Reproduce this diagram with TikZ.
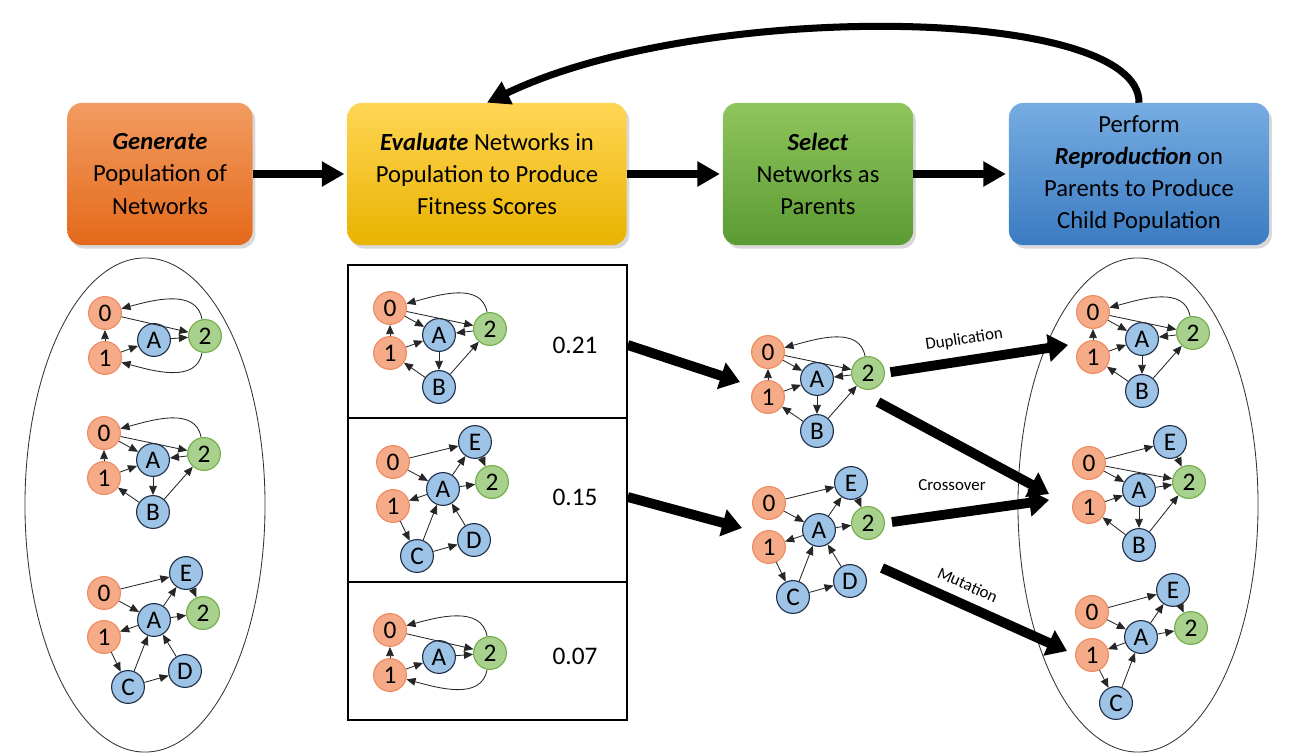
\documentclass[tikz,border=0pt]{standalone}
\usepackage{fontspec}
\setmainfont{Carlito}
\usetikzlibrary{arrows.meta,shapes.geometric,shadows}

\definecolor{orgfill}{HTML}{F5AB88}
\definecolor{orgline}{HTML}{EE8A5E}
\definecolor{bluefill}{HTML}{9DC3E6}
\definecolor{blueline}{HTML}{1F2F4A}
\definecolor{grnfill}{HTML}{A9D18E}
\definecolor{grnline}{HTML}{70AD47}
\definecolor{gentop}{HTML}{F29C62}
\definecolor{genbot}{HTML}{E4691A}
\definecolor{evaltop}{HTML}{FFD655}
\definecolor{evalbot}{HTML}{E9B300}
\definecolor{seltop}{HTML}{8FC55C}
\definecolor{selbot}{HTML}{5C9A33}
\definecolor{reptop}{HTML}{76ACE1}
\definecolor{repbot}{HTML}{3B7BC2}

\newcommand{\netloop}[2]{%
  \begin{scope}[shift={#2}]
    \node[orgnode] (#1-0) at (0,0) {0};
    \node[orgnode] (#1-1) at (0,45) {1};
    \node[bluenode] (#1-A) at (49,27) {A};
    \node[grnnode] (#1-2) at (100,23) {2};
    \draw[netedge] (#1-1) -- (#1-0);
    \draw[netedge] (#1-0) -- (#1-2);
    \draw[netedge] (#1-1) -- (#1-A);
    \draw[netedge] (#1-A) -- (#1-2);
    \draw[netedge] (#1-2) to[out=100,in=15] (#1-0);
    \draw[netedge] (#1-2) to[out=-100,in=-15] (#1-1);
  \end{scope}}

\newcommand{\netbranch}[2]{%
  \begin{scope}[shift={#2}]
    \node[orgnode] (#1-0) at (0,0) {0};
    \node[orgnode] (#1-1) at (0,45) {1};
    \node[bluenode] (#1-A) at (49,27) {A};
    \node[grnnode] (#1-2) at (100,21) {2};
    \node[bluenode] (#1-B) at (49,79) {B};
    \draw[netedge] (#1-2) to[out=100,in=15] (#1-0);
    \draw[netedge] (#1-0) -- (#1-2);
    \draw[netedge] (#1-0) -- (#1-A);
    \draw[netedge] (#1-1) -- (#1-0);
    \draw[netedge] (#1-1) -- (#1-A);
    \draw[netedge] (#1-2) -- (#1-A);
    \draw[netedge] (#1-A) -- (#1-B);
    \draw[netedge] (#1-B) -- (#1-1);
    \draw[netedge] (#1-B) -- (#1-2);
  \end{scope}}

\newcommand{\netwide}[2]{%
  \begin{scope}[shift={#2}]
    \node[orgnode] (#1-0) at (0,0) {0};
    \node[orgnode] (#1-1) at (0,44) {1};
    \node[bluenode] (#1-A) at (50,27) {A};
    \node[grnnode] (#1-2) at (99,20) {2};
    \node[bluenode] (#1-E) at (82,-20) {E};
    \node[bluenode] (#1-D) at (81,78) {D};
    \node[bluenode] (#1-C) at (24,94) {C};
    \draw[netedge] (#1-0) -- (#1-E);
    \draw[netedge] (#1-0) -- (#1-A);
    \draw[netedge] (#1-A) -- (#1-E);
    \draw[netedge] (#1-E) -- (#1-2);
    \draw[netedge] (#1-A) -- (#1-2);
    \draw[netedge] (#1-A) -- (#1-1);
    \draw[netedge] (#1-1) -- (#1-C);
    \draw[netedge] (#1-C) -- (#1-A);
    \draw[netedge] (#1-C) -- (#1-D);
    \draw[netedge] (#1-D) -- (#1-A);
  \end{scope}}

\newcommand{\netcross}[2]{%
  \begin{scope}[shift={#2}]
    \node[orgnode] (#1-0) at (0,0) {0};
    \node[orgnode] (#1-1) at (0,44) {1};
    \node[bluenode] (#1-A) at (50,27) {A};
    \node[grnnode] (#1-2) at (100,19) {2};
    \node[bluenode] (#1-E) at (81,-21) {E};
    \node[bluenode] (#1-B) at (50,82) {B};
    \draw[netedge] (#1-0) -- (#1-E);
    \draw[netedge] (#1-0) -- (#1-2);
    \draw[netedge] (#1-0) -- (#1-A);
    \draw[netedge] (#1-E) -- (#1-2);
    \draw[netedge] (#1-A) -- (#1-2);
    \draw[netedge] (#1-1) -- (#1-A);
    \draw[netedge] (#1-A) -- (#1-B);
    \draw[netedge] (#1-B) -- (#1-1);
    \draw[netedge] (#1-B) -- (#1-2);
  \end{scope}}

\newcommand{\netmutant}[2]{%
  \begin{scope}[shift={#2}]
    \node[orgnode] (#1-0) at (0,0) {0};
    \node[orgnode] (#1-1) at (0,43) {1};
    \node[bluenode] (#1-A) at (49,25) {A};
    \node[grnnode] (#1-2) at (99,16) {2};
    \node[bluenode] (#1-E) at (81,-22) {E};
    \node[bluenode] (#1-C) at (24,91) {C};
    \draw[netedge] (#1-0) -- (#1-E);
    \draw[netedge] (#1-0) -- (#1-A);
    \draw[netedge] (#1-A) -- (#1-E);
    \draw[netedge] (#1-E) -- (#1-2);
    \draw[netedge] (#1-A) -- (#1-2);
    \draw[netedge] (#1-A) -- (#1-1);
    \draw[netedge] (#1-1) -- (#1-C);
    \draw[netedge] (#1-C) -- (#1-A);
  \end{scope}}

\begin{document}
\begin{tikzpicture}[x=0.025cm, y=-0.025cm,
  netnode/.style={circle, minimum size=0.82cm, inner sep=0pt, line width=0.8pt,
    font=\fontsize{18}{18}\selectfont},
  orgnode/.style={netnode, draw=orgline, fill=orgfill},
  bluenode/.style={netnode, draw=blueline, fill=bluefill},
  grnnode/.style={netnode, draw=grnline, fill=grnfill},
  netedge/.style={line width=0.6pt, draw=black!85, -{Triangle[length=6.5pt,width=5.5pt]}},
  stagebox/.style={rounded corners=0.35cm, minimum height=3.55cm, align=center,
    font=\fontsize{17.5}{22.8}\selectfont,
    drop shadow={shadow xshift=2pt, shadow yshift=-2.5pt, opacity=0.3}},
  flowarrow/.style={line width=5pt, -{Triangle[length=16pt,width=17pt]}},
  bigarrow/.style={line width=7pt, -{Triangle[length=14pt,width=19pt]}},
  scorerow/.style={draw, line width=1pt, minimum width=6.975cm},
  popellipse/.style={ellipse, draw=black!80, line width=0.6pt, minimum width=6cm, minimum height=12.35cm},
  edgelabel/.style={font=\fontsize{12}{14}\selectfont}]

\useasboundingbox (0,0) rectangle (1290,755);

\node[stagebox, minimum width=4.625cm, top color=gentop, bottom color=genbot]
  (generate) at (160,174) {\textbf{\textit{Generate}}\\Population of\\Networks};
\node[stagebox, minimum width=6.975cm, top color=evaltop, bottom color=evalbot]
  (evaluate) at (487,174) {\textbf{\textit{Evaluate}} Networks in\\Population to Produce\\Fitness Scores};
\node[stagebox, minimum width=4.75cm, top color=seltop, bottom color=selbot]
  (select) at (818,174) {\textbf{\textit{Select}}\\Networks as\\Parents};
\node[stagebox, minimum width=6.5cm, top color=reptop, bottom color=repbot]
  (perform) at (1139,174) {Perform\\\textbf{\textit{Reproduction}} on\\Parents to Produce\\Child Population};

\draw[flowarrow, shorten >=2pt] (generate) -- (evaluate);
\draw[flowarrow, shorten >=2pt] (evaluate) -- (select);
\draw[flowarrow, shorten >=2pt] (select) -- (perform);
\draw[flowarrow] (perform.north) .. controls (1140,5) and (700,0) .. (evaluate.north);

\node[popellipse] (population) at (145,505) {};
\node[popellipse] (children) at (1138,505) {};

\node[scorerow, minimum height=3.825cm] (row1) at (487.5,341.5) {};
\node[scorerow, minimum height=4.1cm] (row2) at (487.5,500) {};
\node[scorerow, minimum height=3.45cm] (row3) at (487.5,651) {};
\node[font=\fontsize{18}{18}\selectfont] (s1) at (575,345) {0.21};
\node[font=\fontsize{18}{18}\selectfont] (s2) at (575,497) {0.15};
\node[font=\fontsize{18}{18}\selectfont] (s3) at (575,656) {0.07};

\netloop{ga}{(105,313)}
\netbranch{gb}{(104,433)}
\netwide{gc}{(104,593)}

\netbranch{ea}{(390,308)}
\netwide{eb}{(393,462)}
\netloop{ec}{(390,630)}

\netbranch{sa}{(768,352)}
\netwide{sb}{(769,503)}

\netbranch{ra}{(1093,312)}
\netcross{rb}{(1089,463)}
\netmutant{rc}{(1092,612)}

\coordinate (pick1) at (740,382);
\coordinate (pick2) at (742,528);
\coordinate (dupend) at (1068,345);
\coordinate (crossend) at (1049,494);
\coordinate (crossend2) at (1049,500);
\coordinate (mutend) at (1067,651);
\coordinate (crossstart) at (878,402);
\coordinate (mutstart) at (882,568);

\draw[bigarrow] (row1.east |- s1) -- (pick1);
\draw[bigarrow] (row2.east |- s2) -- (pick2);
\draw[bigarrow, shorten <=4pt] (sa-2.east) -- node[edgelabel, sloped, above=3pt, pos=0.45] {Duplication} (dupend);
\draw[bigarrow] (crossstart) -- (crossend);
\draw[bigarrow, shorten <=5pt] (sb-2.east) -- (crossend2);
\draw[bigarrow] (mutstart) -- node[edgelabel, sloped, above=3pt, pos=0.42] {Mutation} (mutend);
\node[edgelabel] (crosslabel) at (952,485) {Crossover};

\end{tikzpicture}
\end{document}
